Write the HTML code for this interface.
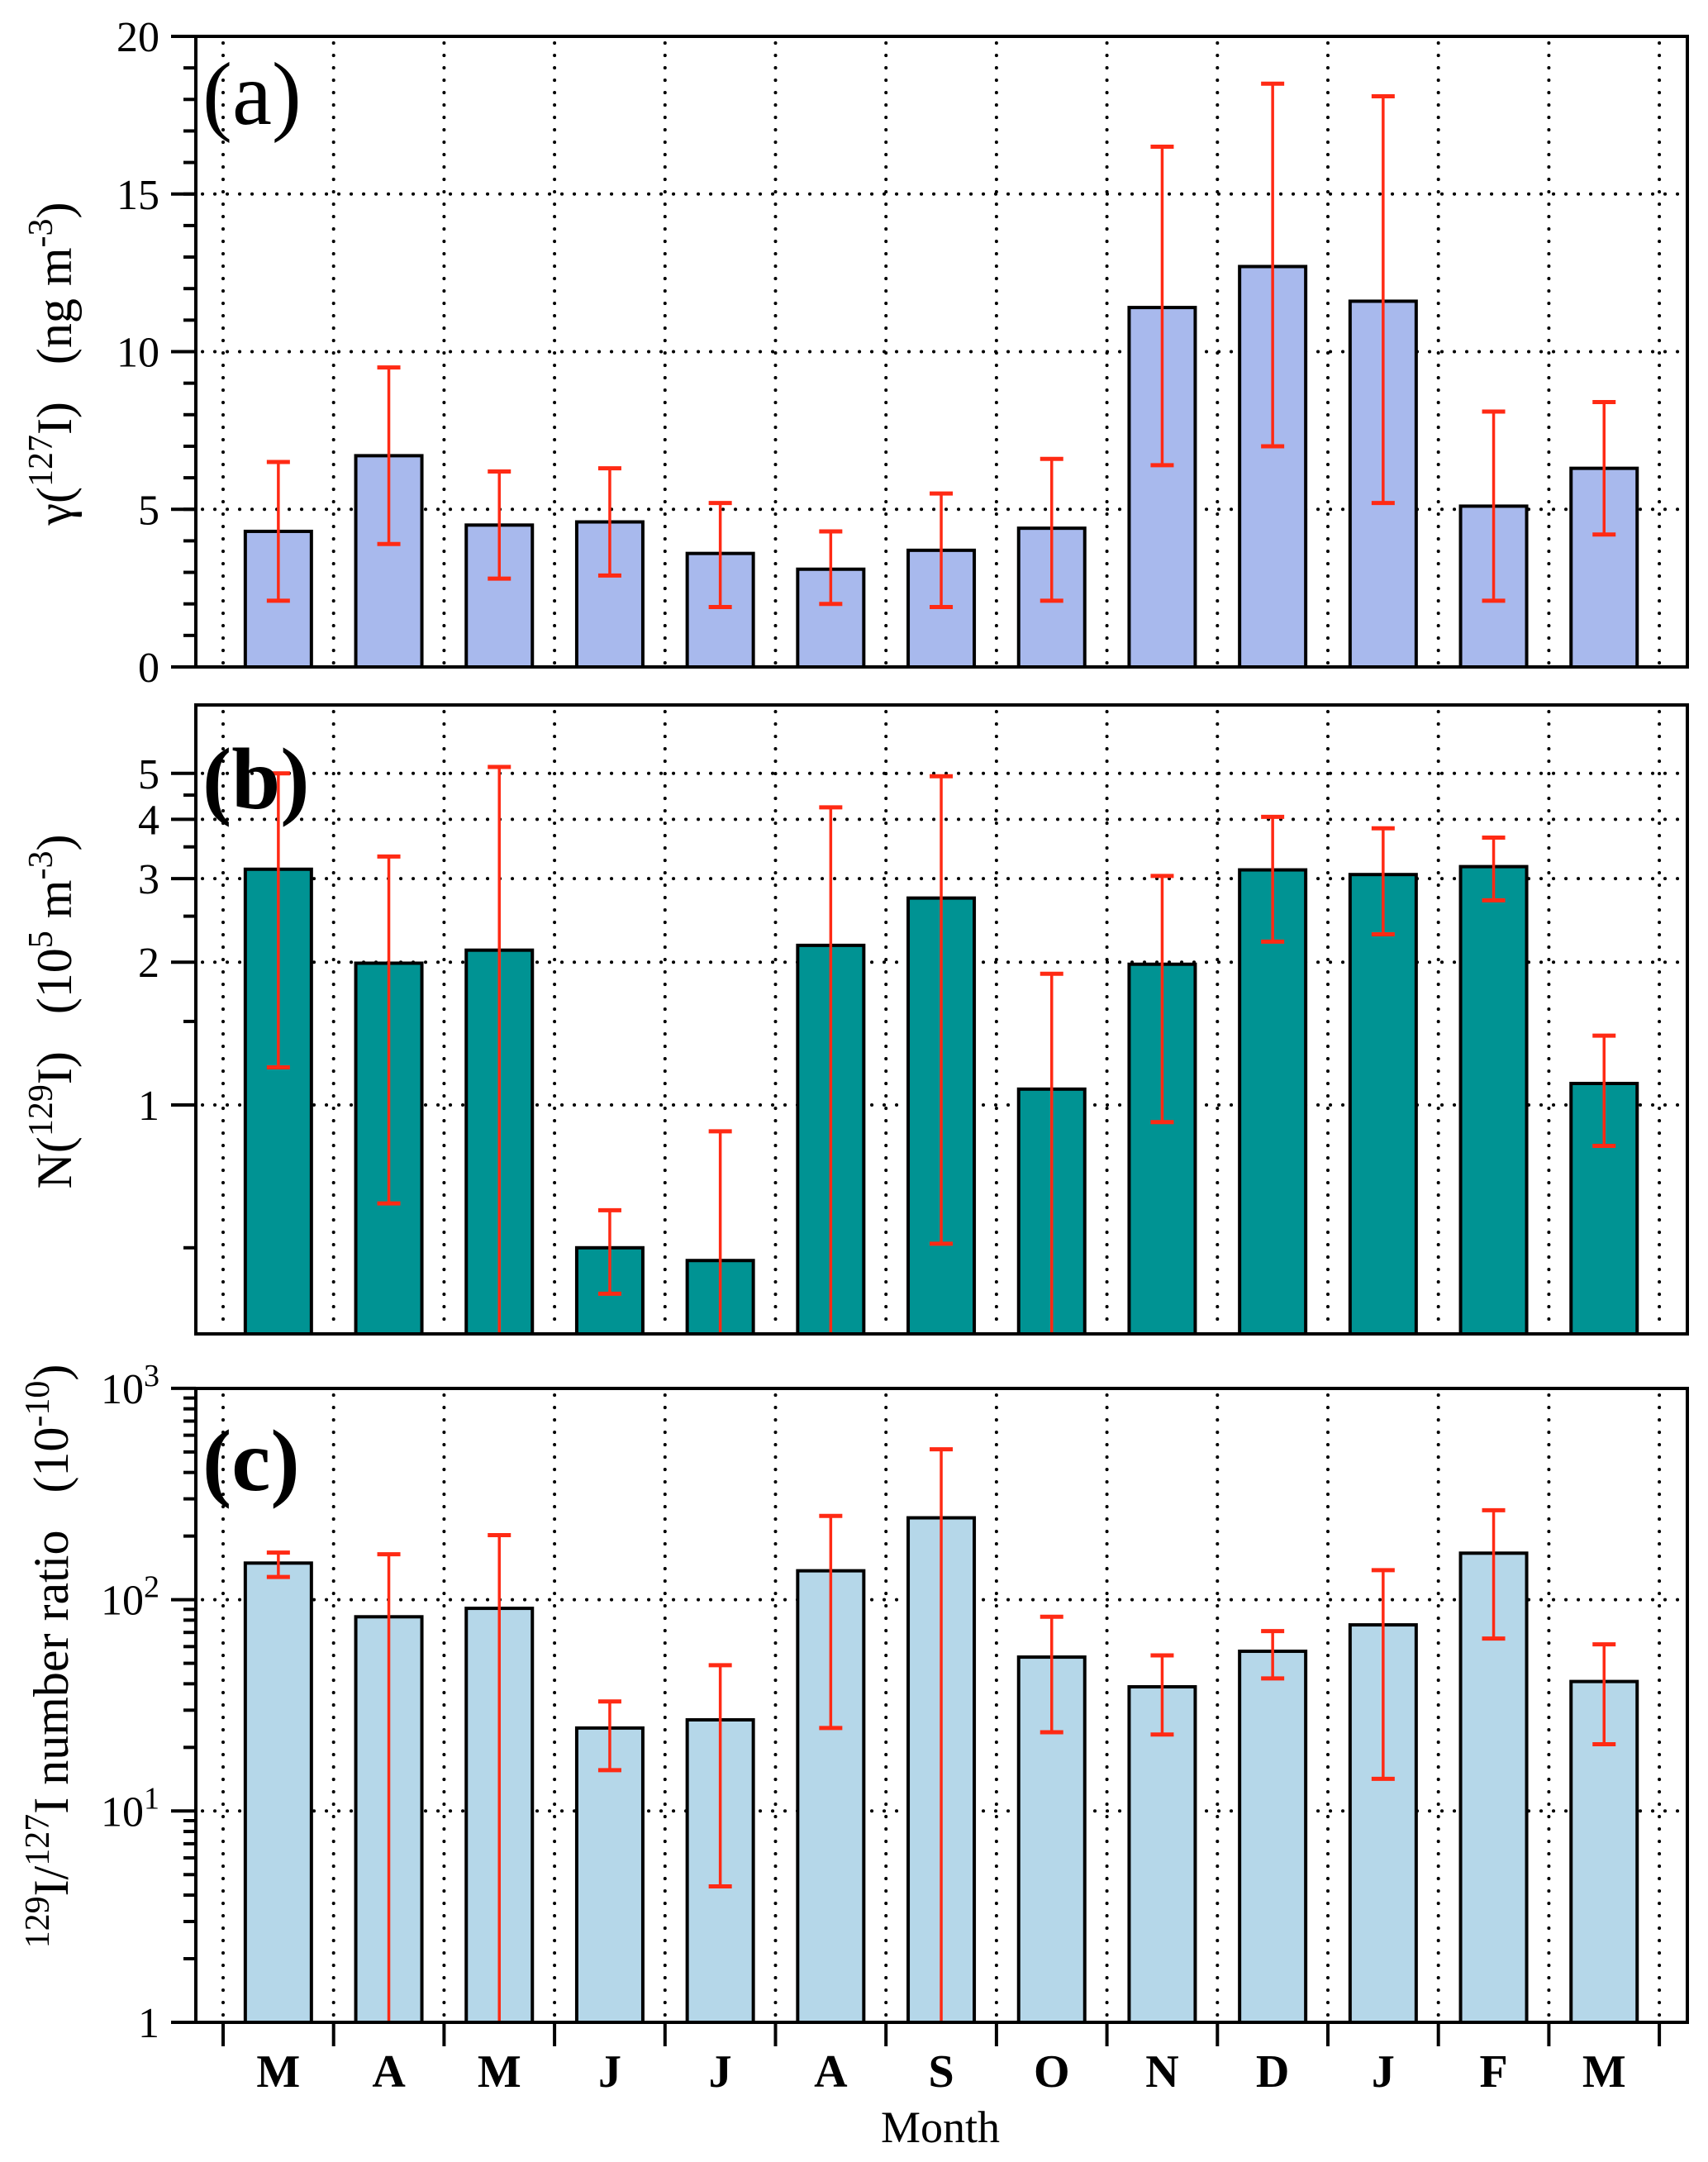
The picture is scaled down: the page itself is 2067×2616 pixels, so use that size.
<!DOCTYPE html>
<html><head><meta charset="utf-8"><style>
html,body{margin:0;padding:0;background:#fff;}
svg{display:block;font-family:"Liberation Serif","DejaVu Serif",serif;}
</style></head><body>
<svg id="chart" width="2067" height="2616" viewBox="0 0 2067 2616" xmlns="http://www.w3.org/2000/svg">
<defs>
<clipPath id="clipA"><rect x="237" y="44" width="1805" height="763"/></clipPath>
<clipPath id="clipB"><rect x="237" y="853" width="1805" height="761"/></clipPath>
<clipPath id="clipC"><rect x="237" y="1680" width="1805" height="767"/></clipPath>
</defs>
<g id="root"></g>
<text transform="translate(86,440) rotate(-90)" text-anchor="middle" font-size="60" xml:space="preserve">γ(<tspan baseline-shift="super" font-size="42">127</tspan>I)   (ng m<tspan baseline-shift="super" font-size="42">-3</tspan>)</text>
<text transform="translate(86,1224) rotate(-90)" text-anchor="middle" font-size="60" xml:space="preserve">N(<tspan baseline-shift="super" font-size="42">129</tspan>I)   (10<tspan baseline-shift="super" font-size="42">5</tspan> m<tspan baseline-shift="super" font-size="42">-3</tspan>)</text>
<text transform="translate(82,2004) rotate(-90)" text-anchor="middle" font-size="60" xml:space="preserve"><tspan baseline-shift="super" font-size="42">129</tspan>I/<tspan baseline-shift="super" font-size="42">127</tspan>I number ratio   (10<tspan baseline-shift="super" font-size="42">-10</tspan>)</text>
<text x="245" y="150" font-size="108">(a)</text>
<text x="245" y="978" font-size="106" font-weight="bold">(b)</text>
<text x="245" y="1803" font-size="106" font-weight="bold">(c)</text>
<text x="1138" y="2592" text-anchor="middle" font-size="54">Month</text>
</svg>
<script>
const months = ['M','A','M','J','J','A','S','O','N','D','J','F','M'];
const aVal = [4.3,6.7,4.5,4.6,3.6,3.1,3.7,4.4,11.4,12.7,11.6,5.1,6.3];
const aLo  = [2.1,3.9,2.8,2.9,1.9,2.0,1.9,2.1,6.4,7.0,5.2,2.1,4.2];
const aHi  = [6.5,9.5,6.2,6.3,5.2,4.3,5.5,6.6,16.5,18.5,18.1,8.1,8.4];
const bVal = [3.14,1.99,2.12,0.50,0.47,2.17,2.73,1.08,1.98,3.13,3.06,3.18,1.11];
const bLo  = [1.2,0.62,0.1,0.40,0.1,0.1,0.51,0.1,0.92,2.21,2.29,2.70,0.82];
const bHi  = [5.0,3.34,5.16,0.60,0.88,4.24,4.93,1.89,3.04,4.05,3.83,3.66,1.40];
const cVal = [149,83,91,24.7,27,137,244,53.5,38.7,57,76,166,41];
const cLo  = [128,0.5,0.5,15.6,4.4,24.7,0.5,23.6,23,42.4,14.2,65.5,20.7];
const cHi  = [167,164,202,33,49,249,515,83,54.5,71,138,265,61.5];
const aTicks = [0,5,10,15,20];
const bTicks = [1,2,3,4,5];
const bMinor = [0.5,1.5,2.5,3.5,4.5];
const cTicks = [1,10,100,1000];

const NS='http://www.w3.org/2000/svg';
const root=document.getElementById('root');
const L=237,R=2042,X0=270,STEP=133.7,BW=80;
function mk(tag,attrs,parent){const e=document.createElementNS(NS,tag);for(const k in attrs)e.setAttribute(k,attrs[k]);(parent||root).appendChild(e);return e;}
function xc(i){return X0+STEP*(i+0.5);}
function yA(v){return 807-v*38.15;}
function yB(v){return 1337-Math.log10(v)*574;}
function yC(v){return 2447-Math.log10(v)*255.7;}

function panel(key,top,bot,ys,vals,lo,hi,color,majors,minors,labelFn,clip){
  const g=mk('g',{});
  
  
  for(let i=0;i<=13;i++){
    const x=X0+STEP*i;
    const l=mk('line',{x1:x,x2:x,y1:top+8,y2:bot-4,stroke:'#000','stroke-width':4,'stroke-linecap':'round','stroke-dasharray':'0.1 14.9'},g);
    
    
  }
  majors.forEach(v=>{
    const y=ys(v);
    if(y<=top+2||y>=bot-2)return;
    const l=mk('line',{x1:L+8,x2:R-4,y1:y,y2:y,stroke:'#000','stroke-width':4,'stroke-linecap':'round','stroke-dasharray':'0.1 14.9'},g);
    
    
  });
  vals.forEach((v,i)=>{
    const y=Math.max(ys(v),top);
    const r=mk('rect',{x:xc(i)-BW/2,y:y,width:BW,height:bot-y,fill:color,stroke:'#000','stroke-width':4},g);
    
    
  });
  const eg=mk('g',{'clip-path':'url(#'+clip+')'},g);
  vals.forEach((v,i)=>{
    const x=xc(i),y1=ys(hi[i]),y2=ys(lo[i]);
    const l=mk('line',{x1:x,x2:x,y1:y1,y2:y2,stroke:'#ff2a14','stroke-width':3.5},eg);
    
    
    const c1=mk('line',{x1:x-14,x2:x+14,y1:y1,y2:y1,stroke:'#ff2a14','stroke-width':5},eg);
    
    
    if(y2<bot-2){
      const c2=mk('line',{x1:x-14,x2:x+14,y1:y2,y2:y2,stroke:'#ff2a14','stroke-width':5},eg);
      
      
    }
  });
  const f=mk('rect',{x:L,y:top,width:R-L,height:bot-top,fill:'none',stroke:'#000','stroke-width':4},g);
  
  
  minors.forEach(v=>{
    const y=ys(v);
    const t=mk('line',{x1:L-15,x2:L,y1:y,y2:y,stroke:'#000','stroke-width':4},g);
    
    
  });
  majors.forEach(v=>{
    const y=ys(v);
    const t=mk('line',{x1:L-30,x2:L,y1:y,y2:y,stroke:'#000','stroke-width':4},g);
    
    
    const tx=mk('text',{x:193,y:y+18,'text-anchor':'end','font-size':52},g);
    
    
    labelFn(v,tx);
  });
}
function plain(v,tx){tx.textContent=String(v);}
function pow10(v,tx){
  const e=Math.round(Math.log10(v));
  if(e===0){tx.textContent='1';return;}
  tx.appendChild(document.createTextNode('10'));
  const s=document.createElementNS(NS,'tspan');
  s.setAttribute('baseline-shift','super');s.setAttribute('font-size','38');
  s.textContent=String(e);tx.appendChild(s);
}
const aMinor=[];for(let v=0;v<=20;v++)aMinor.push(v);
const cMinor=[];[1,10,100].forEach(d=>{for(let k=2;k<=9;k++)cMinor.push(d*k);});
panel('a',44,807,yA,aVal,aLo,aHi,'#a8b9ed',aTicks,aMinor,plain,'clipA');
panel('b',853,1614,yB,bVal,bLo,bHi,'#009393',bTicks,bMinor,plain,'clipB');
panel('c',1680,2447,yC,cVal,cLo,cHi,'#b5d7e9',cTicks,cMinor,pow10,'clipC');
for(let i=0;i<=13;i++){
  const x=X0+STEP*i;
  const t=mk('line',{x1:x,x2:x,y1:2447,y2:2476,stroke:'#000','stroke-width':4});
  
  
}
months.forEach((m,i)=>{
  const t=mk('text',{x:xc(i),y:2525,'text-anchor':'middle','font-size':56,'font-weight':'bold'});
  
  
  t.textContent=m;
});
</script>
</body></html>
